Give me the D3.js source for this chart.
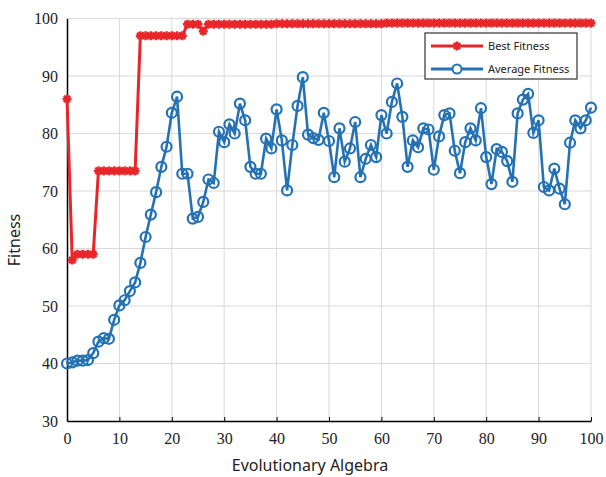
<!DOCTYPE html>
<html><head><meta charset="utf-8">
<script src="https://cdn.jsdelivr.net/npm/d3@7"></script>
<style>body{margin:0;background:#fff}</style>
</head><body><svg id="c" width="606" height="477"></svg>
<script>
const generations = d3.range(0, 101);
const bestFitness = [86,58,59,59,59,59,73.5,73.5,73.5,73.5,73.5,73.5,73.5,73.5,97,97,97,97,97,97,97,97,97,99,99,99,97.8,99,99,99,
99,99,99,99,99,99,99,99,99,99,99.1,99.1,99.1,99.1,99.1,99.1,99.1,99.1,99.1,99.1,99.1,99.1,99.1,99.1,99.1,99.1,99.1,99.1,99.1,99.1,
99.1,99.2,99.2,99.2,99.2,99.2,99.2,99.2,99.2,99.2,99.2,99.2,99.2,99.2,99.2,99.2,99.2,99.2,99.2,99.2,99.2,99.2,99.2,99.2,99.2,99.2,
99.2,99.2,99.2,99.2,99.2,99.2,99.2,99.2,99.2,99.2,99.2,99.2,99.2,99.2,99.2];
const averageFitness = [40,40.2,40.5,40.5,40.6,41.8,43.8,44.4,44.3,47.6,50.1,51,52.6,54.1,57.5,62,65.9,69.8,74.2,77.7,
83.6,86.4,73,73,65.2,65.5,68.1,72,71.4,80.3,78.5,81.6,80,85.2,82.3,74.2,73,73,79.1,77.4,
84.2,78.8,70.1,78,84.8,89.8,79.8,79.2,78.9,83.6,78.7,72.4,80.9,75.1,77.4,82,72.4,75.6,78,75.9,
83.2,80,85.5,88.7,82.9,74.2,78.8,77.6,80.9,80.7,73.7,79.5,83.2,83.5,77,73.1,78.5,80.9,78.8,84.4,
75.9,71.2,77.3,76.8,75.2,71.6,83.5,85.9,86.9,80.1,82.3,70.7,70.1,73.9,70.4,67.7,78.4,82.3,80.9,82.3,84.5];
const xTicks = [0,10,20,30,40,50,60,70,80,90,100];
const yTicks = [30,40,50,60,70,80,90,100];
const seriesNames = ["Best Fitness","Average Fitness"];

const svg = d3.select("#c");
const L = 67, R = 591, T = 18.5, B = 421;
const x = d3.scaleLinear().domain([0,100]).range([L,R]);
const y = d3.scaleLinear().domain([30,100]).range([B,T]);
const red = "#e8262a", blue = "#2472b4";

// grid
svg.append("g").selectAll("line").data(xTicks.slice(1)).join("line")
  .attr("x1", d=>x(d)).attr("x2", d=>x(d)).attr("y1", T).attr("y2", B)
  .attr("stroke", "#d9d9d9").attr("stroke-width", 1);
svg.append("g").selectAll("line").data(yTicks.slice(1)).join("line")
  .attr("x1", L).attr("x2", R).attr("y1", d=>y(d)).attr("y2", d=>y(d))
  .attr("stroke", "#d9d9d9").attr("stroke-width", 1);

// axes
const xa = svg.append("g").attr("transform", `translate(0,${B})`)
  .call(d3.axisBottom(x).tickValues(xTicks).tickSizeInner(-4).tickSizeOuter(0).tickPadding(12));
const ya = svg.append("g").attr("transform", `translate(${L},0)`)
  .call(d3.axisLeft(y).tickValues(yTicks).tickSizeInner(0).tickSizeOuter(0).tickPadding(9));
[xa, ya].forEach(a => {
  a.select(".domain").attr("stroke", "#000").attr("stroke-width", 1.5);
  a.selectAll(".tick line").attr("stroke", "#000");
  a.selectAll("text").attr("font-family", "'Liberation Serif', 'Times New Roman', serif")
    .attr("font-size", 16).attr("fill", "#222");
});

// lines
const line = d3.line().x((d,i)=>x(generations[i])).y(d=>y(d));
svg.append("path").datum(bestFitness).attr("d", line).attr("fill","none")
  .attr("stroke", red).attr("stroke-width", 3);
function drawStar(g, cx, cy) {
  const s = 4.5;
  const gg = g.append("g").attr("transform", `translate(${cx},${cy})`);
  [[-s,0,s,0],[0,-s,0,s],[-s*0.7,-s*0.7,s*0.7,s*0.7],[-s*0.7,s*0.7,s*0.7,-s*0.7]].forEach(p=>{
    gg.append("line").attr("x1",p[0]).attr("y1",p[1]).attr("x2",p[2]).attr("y2",p[3])
      .attr("stroke", red).attr("stroke-width", 2.5);
  });
}
const bestG = svg.append("g");
bestFitness.forEach((v,i)=>drawStar(bestG, x(generations[i]), y(v)));

svg.append("path").datum(averageFitness).attr("d", line).attr("fill","none")
  .attr("stroke", blue).attr("stroke-width", 2.6);
svg.append("g").selectAll("circle").data(averageFitness).join("circle")
  .attr("cx", (d,i)=>x(generations[i])).attr("cy", d=>y(d)).attr("r", 5)
  .attr("fill", "none").attr("stroke", blue).attr("stroke-width", 2.2);

// axis titles
svg.append("text").attr("x", 310).attr("y", 471).attr("text-anchor","middle")
  .attr("font-family","'Noto Sans', 'DejaVu Sans', sans-serif").attr("font-size", 16).attr("fill","#222")
  .text("Evolutionary Algebra");
svg.append("text").attr("transform","translate(20,240) rotate(-90)").attr("text-anchor","middle")
  .attr("font-family","'Noto Sans', 'DejaVu Sans', sans-serif").attr("font-size", 16).attr("fill","#222")
  .text("Fitness");

// legend
const lg = svg.append("g");
lg.append("rect").attr("x", 425).attr("y", 33).attr("width", 152).attr("height", 46)
  .attr("fill","#fff").attr("stroke","#333").attr("stroke-width", 1.2);
const rows = [{name: seriesNames[0], c: red, yy: 46}, {name: seriesNames[1], c: blue, yy: 69}];
rows.forEach((r, i) => {
  lg.append("line").attr("x1", 431).attr("x2", 483).attr("y1", r.yy).attr("y2", r.yy)
    .attr("stroke", r.c).attr("stroke-width", 2.8);
  if (i === 0) drawStar(lg, 457, r.yy);
  else lg.append("circle").attr("cx", 457).attr("cy", r.yy).attr("r", 4.5).attr("fill","#fff")
    .attr("stroke", blue).attr("stroke-width", 2);
  lg.append("text").attr("x", 488).attr("y", r.yy + 4).attr("font-family","'Noto Sans', 'DejaVu Sans', sans-serif")
    .attr("font-size", 11).attr("fill","#222").text(r.name);
});
</script></body></html>
